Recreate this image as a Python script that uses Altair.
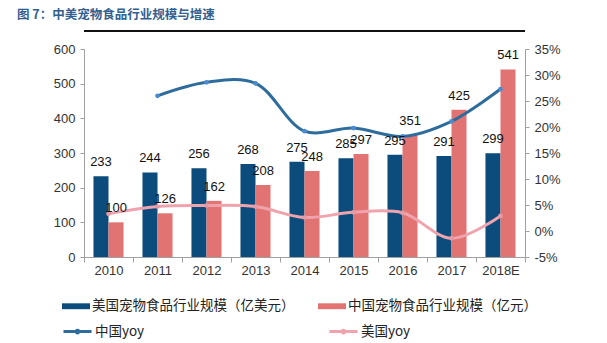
import altair as alt
import pandas as pd

years = ["2010", "2011", "2012", "2013", "2014", "2015", "2016", "2017", "2018E"]
us_size = [233, 244, 256, 268, 275, 285, 295, 291, 299]
cn_size = [100, 126, 162, 208, 248, 297, 351, 425, 541]
cn_yoy = [None, 26.0, 28.6, 28.4, 19.2, 19.8, 18.2, 21.1, 27.3]
us_yoy = [3.3, 4.7, 4.9, 4.7, 2.6, 3.6, 3.5, -1.4, 2.9]

bar_series = ["美国宠物食品行业规模（亿美元）", "中国宠物食品行业规模（亿元）"]
line_series = ["中国yoy", "美国yoy"]
title_text = "图 7：中美宠物食品行业规模与增速"
left_ticks = [0, 100, 200, 300, 400, 500, 600]
right_ticks = [-5, 0, 5, 10, 15, 20, 25, 30, 35]

FONT = "Liberation Sans, Noto Sans CJK SC"
CJK = "Noto Sans CJK SC"
US_BLUE = "#0B4C7D"
CN_RED = "#E27373"
LINE_BLUE = "#2E6C9C"
PT_BLUE = "#4A8BD0"
LINE_PINK = "#EFA3AC"
PT_PINK = "#E59AA5"
AXIS_GRAY = "#A0A0A0"

bars_df = pd.DataFrame({
    "year": years * 2,
    "series": [bar_series[0]] * len(years) + [bar_series[1]] * len(years),
    "value": us_size + cn_size,
})
lines_df = pd.DataFrame({
    "year": years * 2,
    "series": [line_series[0]] * len(years) + [line_series[1]] * len(years),
    "yoy": cn_yoy + us_yoy,
})
one = pd.DataFrame({"t": [title_text]})

x_enc = alt.X(
    "year:N", sort=years,
    scale=alt.Scale(paddingInner=0, paddingOuter=0),
    axis=alt.Axis(title=None, labelAngle=0, tickBand="extent", tickSize=5,
                  labelPadding=2, labelFontSize=13, labelColor="#333333",
                  domainColor=AXIS_GRAY, tickColor=AXIS_GRAY, labelFont=FONT),
)
xoff = alt.XOffset("series:N", sort=bar_series,
                   scale=alt.Scale(paddingOuter=0.63, paddingInner=0))

bars = alt.Chart(bars_df).mark_bar().encode(
    x=x_enc,
    xOffset=xoff,
    y=alt.Y("value:Q", scale=alt.Scale(domain=[0, 600]),
            axis=alt.Axis(title=None, orient="left", values=left_ticks, grid=False,
                          tickSize=4, labelPadding=5, labelFontSize=13,
                          labelColor="#333333", domainColor=AXIS_GRAY,
                          tickColor=AXIS_GRAY, labelFont=FONT)),
    color=alt.Color("series:N", sort=bar_series,
                    scale=alt.Scale(domain=bar_series, range=[US_BLUE, CN_RED]),
                    legend=alt.Legend(title=None, orient="none", legendX=-22, legendY=243,
                                      direction="horizontal", padding=0,
                                      symbolType="M-1,-0.21H1V0.21H-1Z", symbolSize=784,
                                      symbolStrokeWidth=0, labelFontSize=13.5, labelFont=CJK,
                                      labelColor="#222222", labelLimit=400, labelOffset=2,
                                      columnPadding=23)),
)

bar_text = alt.Chart(bars_df).mark_text(
    baseline="alphabetic", dy=-10, fontSize=13, font=FONT, color="#111111"
).encode(
    x=x_enc,
    xOffset=xoff,
    y=alt.Y("value:Q", scale=alt.Scale(domain=[0, 600]), axis=None),
    text="value:Q",
)

lines = alt.Chart(lines_df).mark_line(interpolate="catmull-rom", strokeWidth=3).encode(
    x=x_enc,
    y=alt.Y("yoy:Q", scale=alt.Scale(domain=[-5, 35]),
            axis=alt.Axis(title=None, orient="right", values=right_ticks, grid=False,
                          labelExpr="datum.value + '%'", tickSize=4, labelPadding=5,
                          labelFontSize=13, labelColor="#333333", domainColor=AXIS_GRAY,
                          tickColor=AXIS_GRAY, labelFont=FONT)),
    stroke=alt.Stroke("series:N", sort=line_series,
                      scale=alt.Scale(domain=line_series, range=[LINE_BLUE, LINE_PINK]),
                      legend=alt.Legend(title=None, orient="none", legendX=-22, legendY=267,
                                        direction="horizontal", padding=0,
                                        symbolType="M-1,0H1M-0.1,0a0.1,0.1 0 1,0 0.2,0a0.1,0.1 0 1,0 -0.2,0",
                                        symbolSize=784,
                                        symbolStrokeWidth=3, labelFontSize=13.5, labelFont=CJK,
                                        labelColor="#222222", labelLimit=400, labelOffset=2,
                                        columnPadding=178)),
)

points = alt.Chart(lines_df).mark_circle(size=22, opacity=1).encode(
    x=x_enc,
    y=alt.Y("yoy:Q", scale=alt.Scale(domain=[-5, 35]), axis=None),
    fill=alt.Fill("series:N", scale=alt.Scale(domain=line_series, range=[PT_BLUE, PT_PINK]),
                  legend=None),
)

title = alt.Chart(one).mark_text(
    align="left", baseline="middle", fontSize=12.5, font=CJK, fontWeight="bold",
    color="#31608F"
).encode(x=alt.value(-67), y=alt.value(-34), text="t:N")

# underline below the header (horizontal rule across the plot width)
underline = alt.Chart(one).mark_rule(color="#111111", strokeWidth=2).encode(
    y=alt.value(-18)
)

chart = alt.layer(bars, lines, points, bar_text, title, underline).resolve_scale(
    y="independent"
).properties(
    width=441, height=208,
    autosize=alt.AutoSizeParams(type="none"),
    padding={"left": 84, "top": 49, "right": 82, "bottom": 86},
    background="white",
).configure_view(stroke=None)

chart.save("out.html", embed_options={"renderer": "svg", "actions": False})
